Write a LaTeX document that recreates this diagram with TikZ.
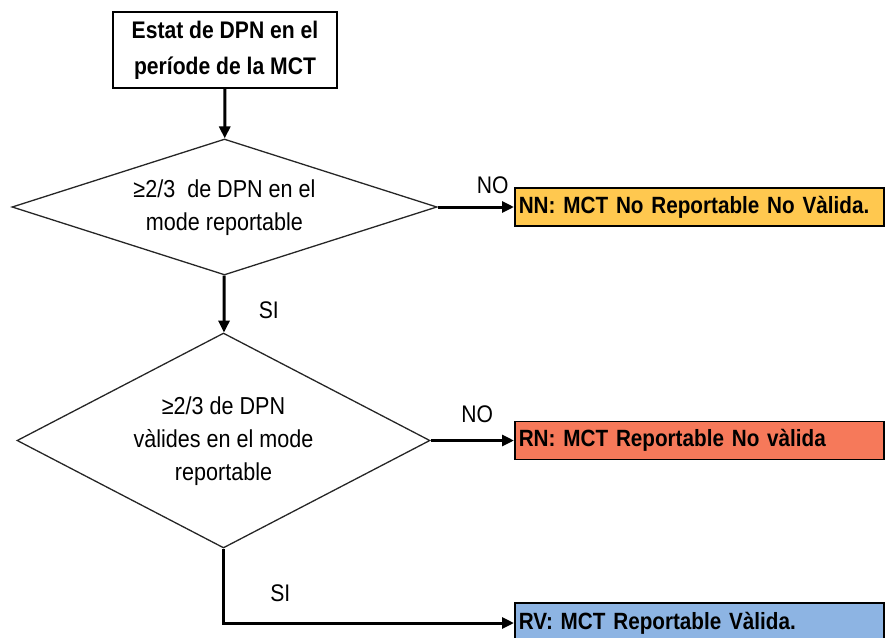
\documentclass[tikz,border=0pt]{standalone}
\usepackage{fontspec}
\setmainfont{Liberation Sans}[FakeStretch=0.88]
\usetikzlibrary{shapes.geometric,arrows.meta}

\definecolor{nncolor}{HTML}{FFC84F}
\definecolor{rncolor}{HTML}{F6795A}
\definecolor{rvcolor}{HTML}{8DB4E3}

\begin{document}
\begin{tikzpicture}[x=1pt, y=-1pt, every node/.style={align=center, font=\fontsize{24.5}{33}\selectfont}, >={Triangle[length=12pt,width=11pt]}]
    % styles
    \tikzstyle{startbox} = [rectangle, draw=black, line width=2pt, fill=white, minimum width=224pt, minimum height=76pt, font=\fontsize{24}{36}\selectfont\bfseries]
    \tikzstyle{decision} = [diamond, draw=black!85, line width=1.3pt, inner sep=0pt]
    \tikzstyle{result} = [rectangle, draw=black, line width=1.6pt, anchor=west, minimum height=38pt, inner xsep=4pt, text width=361pt, align=left, font=\fontsize{23.5}{25}\selectfont\bfseries]
    \tikzstyle{arrow} = [line width=3pt, ->]
    \tikzstyle{answer} = [font=\fontsize{24}{26}\selectfont]

    \useasboundingbox (0,0) rectangle (885,637);

    % nodes
    \node[startbox] (estat) at (225,50) {Estat de DPN en el\\període de la MCT};

    \node[decision, aspect=3, minimum width=425pt, minimum height=136pt] (mode) at (224.5,207) {\raisebox{-4pt}{\begin{tabular}{@{}c@{}}≥2/3\ \ de DPN en el\\mode\ reportable\end{tabular}}};

    \node[decision, aspect=2, minimum width=413pt, minimum height=215pt] (valides) at (223.5,440.5) {\raisebox{-5pt}{\begin{tabular}{@{}c@{}}≥2/3 de DPN\\vàlides en el mode\\reportable\end{tabular}}};

    \node[result, fill=nncolor] (nn) at (514,207) {NN: MCT\ No Reportable No Vàlida.};
    \node[result, fill=rncolor] (rn) at (514,440.5) {RN: MCT\ Reportable No vàlida};
    \node[result, fill=rvcolor, minimum height=40pt] (rv) at (514,623) {RV: MCT Reportable Vàlida.};

    % connectors
    \draw[arrow] (estat) -- (mode);
    \draw[arrow] (mode) -- node[answer, pos=0.6, right=30pt] (si1) {SI} (valides);
    \draw[arrow] (mode.east) -- node[answer, pos=0.72, above=8pt] (no1) {NO} (nn.west);
    \draw[arrow] (valides.east) -- node[answer, pos=0.56, above=13pt] (no2) {NO} (rn.west);
    \draw[arrow] (valides.south) |- node[answer, pos=0.3, right=42pt] (si2) {SI} (rv.west);
\end{tikzpicture}
\end{document}
